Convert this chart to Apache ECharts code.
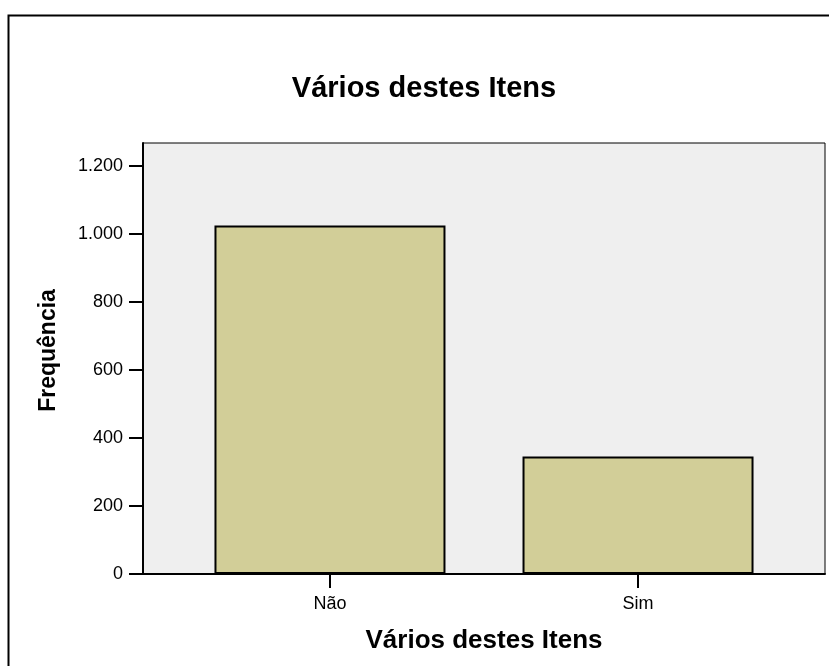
<!DOCTYPE html>
<html>
<head>
<meta charset="utf-8">
<script src="https://cdn.jsdelivr.net/npm/echarts@6/dist/echarts.min.js"></script>
<style>
  html, body { margin: 0; padding: 0; background: #fff; }
  #chart { width: 829px; height: 666px; }
</style>
</head>
<body>
<div id="chart"></div>
<script>
// data
const categories = ['Não', 'Sim']
const frequencies = [1025, 346]
const yTicks = [0, 200, 400, 600, 800, 1000, 1200]

const font = "'Liberation Sans', Arial, Helvetica, sans-serif"

let chart = echarts.init(document.getElementById('chart'))

let fmtThousands = (v) => String(v).replace(/\B(?=(\d{3})+(?!\d))/g, '.')

chart.setOption({
    animation: false,
    backgroundColor: '#fff',
    textStyle: {fontFamily: font, color: '#000'},
    // outer frame of the output
    graphic: [{
        type: 'rect',
        shape: {x: 8.5, y: 15.5, width: 900, height: 700},
        style: {fill: 'none', stroke: '#000', lineWidth: 2},
        silent: true
    }],
    title: {
        text: 'Vários destes Itens',
        left: 419,
        top: 69,
        textAlign: 'center',
        textStyle: {fontFamily: font, fontSize: 29, fontWeight: 'bold', color: '#000'}
    },
    grid: {
        left: 143, right: 4, top: 143, bottom: 92,
        show: true,
        backgroundColor: '#efefef',
        borderColor: '#000',
        borderWidth: 1
    },
    xAxis: {
        type: 'value',
        min: -0.607,
        max: 1.607,
        name: 'Vários destes Itens',
        nameLocation: 'middle',
        nameGap: 54,
        nameTextStyle: {fontFamily: font, fontSize: 26, fontWeight: 'bold', color: '#000'},
        splitLine: {show: false},
        axisLine: {show: true, onZero: false, lineStyle: {color: '#000', width: 2}},
        axisTick: {show: true, length: 14, customValues: [0, 1], lineStyle: {color: '#000', width: 2}},
        axisLabel: {
            customValues: [0, 1],
            margin: 21,
            fontFamily: font, fontSize: 18, color: '#000',
            formatter: (v) => categories[Math.round(v)]
        }
    },
    yAxis: {
        type: 'value',
        min: 0,
        max: 1268,
        name: 'Frequência',
        nameLocation: 'middle',
        nameGap: 83,
        nameTextStyle: {fontFamily: font, fontSize: 23, fontWeight: 'bold', color: '#000', padding: [0, 0, 0, 16]},
        splitLine: {show: false},
        axisLine: {show: true, onZero: false, lineStyle: {color: '#000', width: 2}},
        axisTick: {show: true, length: 14, customValues: yTicks, lineStyle: {color: '#000', width: 2}},
        axisLabel: {
            customValues: yTicks,
            margin: 20,
            fontFamily: font, fontSize: 18, color: '#000',
            formatter: fmtThousands
        }
    },
    series: [{
        type: 'bar',
        barWidth: 231,
        data: frequencies.map((v, i) => [i, v]),
        itemStyle: {color: '#d2ce98', borderColor: '#000', borderWidth: 2},
        emphasis: {disabled: true}
    }]
})
</script>
</body>
</html>
